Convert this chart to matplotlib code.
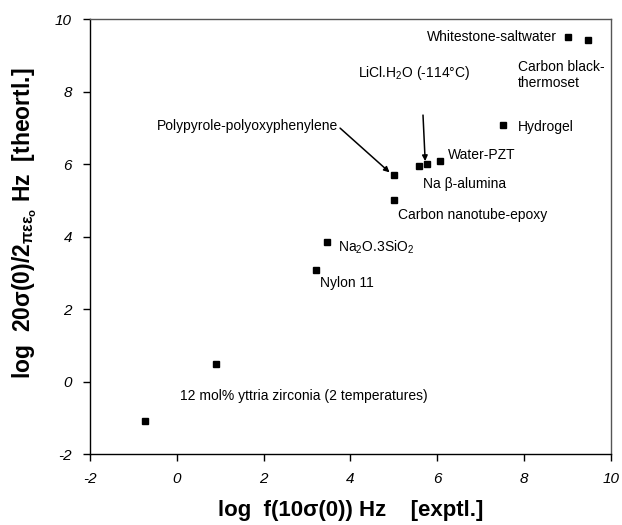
import matplotlib
matplotlib.use("Agg")
import matplotlib.pyplot as plt

plt.rcParams["axes.unicode_minus"] = False
plt.rcParams["mathtext.fontset"] = "custom"
plt.rcParams["mathtext.rm"] = "Liberation Sans"
plt.rcParams["mathtext.it"] = "Liberation Sans:italic"
plt.rcParams["mathtext.bf"] = "Liberation Sans:bold"

# experimental vs theoretical log frequencies
x_expt = [-0.73, 0.90, 3.21, 3.46, 5.00, 5.00, 5.58, 5.76, 6.06, 7.52, 9.01, 9.47]
y_theo = [-1.09, 0.49, 3.09, 3.86, 5.02, 5.71, 5.94, 5.99, 6.07, 7.07, 9.50, 9.42]

label_text = [
    "Whitestone-saltwater",
    "Carbon black-\nthermoset",
    r"LiCl.H$_\mathregular{2}$O (-114°C)",
    "Polypyrole-polyoxyphenylene",
    "Hydrogel",
    "Water-PZT",
    "Na β-alumina",
    "Carbon nanotube-epoxy",
    r"Na$_\mathregular{2}$O.3SiO$_\mathregular{2}$",
    "Nylon 11",
    "12 mol% yttria zirconia (2 temperatures)",
]
label_x = [8.75, 7.86, 4.18, -0.46, 7.86, 6.25, 5.67, 5.10, 3.71, 3.30, 0.07]
label_y = [9.50, 8.45, 8.51, 7.04, 7.01, 6.24, 5.44, 4.58, 3.70, 2.73, -0.40]
label_ha = ["right", "left", "left", "left", "left", "left", "left", "left", "left", "left", "left"]

# arrows: (start, end)
arrows = [((5.67, 7.35), (5.72, 6.08)), ((3.76, 6.99), (4.90, 5.77))]

fig = plt.figure(figsize=(6.22, 5.25), dpi=100)
ax = fig.add_axes([0.1447, 0.1352, 0.8376, 0.8286])

ax.plot(x_expt, y_theo, "s", color="black", markersize=5, linestyle="none")

for t, x, y, ha in zip(label_text, label_x, label_y, label_ha):
    ax.text(x, y, t, ha=ha, va="center", fontsize=10, family="Liberation Sans",
            linespacing=1.2)

for (x0, y0), (x1, y1) in arrows:
    ax.annotate("", xy=(x1, y1), xytext=(x0, y0),
                arrowprops=dict(arrowstyle="-|>", color="black", lw=1.1,
                                mutation_scale=8, shrinkA=0, shrinkB=0))

ax.set_xlim(-2, 10)
ax.set_ylim(-2, 10)
ax.set_xticks(range(-2, 11, 2))
ax.set_yticks(range(-2, 11, 2))
ax.tick_params(direction="out", length=5, width=1, labelsize=11, pad=8)
for lab in ax.get_xticklabels() + ax.get_yticklabels():
    lab.set_fontstyle("italic")
    lab.set_family("Liberation Sans")

for side in ("top", "right"):
    ax.spines[side].set_color("#555555")
    ax.spines[side].set_linewidth(1.0)
for side in ("left", "bottom"):
    ax.spines[side].set_linewidth(1.0)

ax.set_xlabel("log  f(10σ(0)) Hz    [exptl.]", fontsize=16,
              fontweight="bold", family="Liberation Sans", labelpad=10)
ax.set_ylabel(r"log  20σ(0)/2$_\mathregular{πεε_o}$ Hz  [theortl.]",
              fontsize=16.5, fontweight="bold", family="Liberation Sans")
ax.yaxis.set_label_coords(-0.098, 0.53)

fig.savefig("out.png", dpi=100)
